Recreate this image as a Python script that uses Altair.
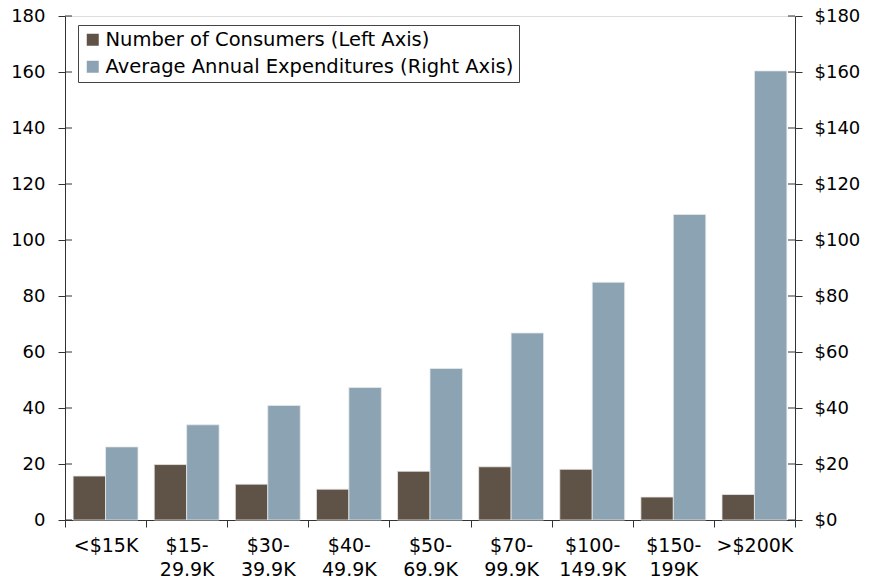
import altair as alt
import pandas as pd

categories = ["<$15K", "$15-|29.9K", "$30-|39.9K", "$40-|49.9K", "$50-|69.9K",
              "$70-|99.9K", "$100-|149.9K", "$150-|199K", ">$200K"]
consumers = [15.7, 19.8, 12.8, 11.0, 17.4, 19.0, 18.1, 8.2, 9.1]
expenditures = [26.1, 34.0, 40.9, 47.3, 54.1, 66.8, 84.9, 109.1, 160.4]
series = ["Number of Consumers (Left Axis)", "Average Annual Expenditures (Right Axis)"]
colors = ["#5E5346", "#8BA3B2"]
y_ticks = [0, 20, 40, 60, 80, 100, 120, 140, 160, 180]

FONT = "DejaVu Sans"
AX = "#333333"
W, H = 730, 504

df1 = pd.DataFrame({"cat": categories, "val": consumers, "series": series[0]})
df2 = pd.DataFrame({"cat": categories, "val": expenditures, "series": series[1]})
dft = pd.DataFrame({"t": y_ticks})

x_enc = alt.X("cat:N", sort=categories, title=None,
              scale=alt.Scale(paddingInner=0, paddingOuter=0),
              axis=alt.Axis(labelExpr="split(datum.label, '|')", labelAngle=0,
                            labelFontSize=19, labelFont=FONT, labelColor="#000",
                            labelLineHeight=24, labelPadding=9, labelBaseline="top",
                            tickBand="extent", tickSize=7, tickColor=AX, domainColor=AX,
                            labelAlign="center"))
xoff = alt.XOffset("series:N", sort=series,
                   scale=alt.Scale(domain=series, paddingOuter=0.25, paddingInner=0))
color = alt.Color("series:N", sort=series,
                  scale=alt.Scale(domain=series, range=colors),
                  legend=alt.Legend(title=None, orient="none", legendX=13, legendY=9,
                                    labelFont=FONT, labelFontSize=19.5, labelColor="#000",
                                    symbolType="square", symbolSize=144, symbolStrokeWidth=0,
                                    labelOffset=3, rowPadding=6, padding=5,
                                    strokeColor="#444", fillColor="white",
                                    labelLimit=700))

yscale = alt.Scale(domain=[0, 180], nice=False)

left = alt.Chart(df1).mark_bar(stroke="#e8e8e8", strokeWidth=0.8).encode(
    x=x_enc, xOffset=xoff, color=color,
    y=alt.Y("val:Q", scale=yscale, title=None,
            axis=alt.Axis(values=y_ticks, grid=False, orient="left", labelFont=FONT,
                          labelFontSize=18, labelColor="#000", tickSize=7, labelPadding=13,
                          labelOffset=0, tickColor=AX, domainColor=AX)),
)

right = alt.Chart(df2).mark_bar(stroke="#e8e8e8", strokeWidth=0.8).encode(
    x=x_enc, xOffset=xoff, color=color,
    y=alt.Y("val:Q", scale=yscale, title=None,
            axis=alt.Axis(values=y_ticks, grid=False, orient="right", labelFont=FONT,
                          labelFontSize=18, labelColor="#000", tickSize=7, labelPadding=12,
                          labelOffset=0, tickColor=AX, domainColor=AX,
                          labelExpr="'$' + datum.label")),
)

in_left = alt.Chart(dft).mark_rule(color=AX, strokeWidth=1).encode(
    y=alt.Y("t:Q", scale=yscale, axis=None),
    x=alt.value(0), x2=alt.value(7),
)
in_right = alt.Chart(dft).mark_rule(color=AX, strokeWidth=1).encode(
    y=alt.Y("t:Q", scale=yscale, axis=None),
    x=alt.value(W - 7), x2=alt.value(W),
)

chart = alt.layer(left, right, in_left, in_right).resolve_scale(y="independent").properties(
    width=W, height=H,
    autosize=alt.AutoSizeParams(type="none"),
    padding={"left": 57, "top": 8, "right": 76, "bottom": 66},
).configure_view(stroke="#222222", strokeWidth=1.5).configure(background="white")

chart.save("out.html", embed_options={"renderer": "svg", "actions": False})
